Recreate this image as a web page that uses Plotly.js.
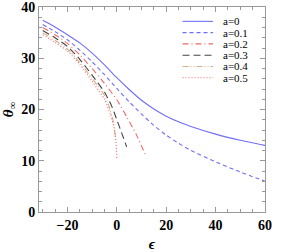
<!DOCTYPE html>
<html><head><meta charset="utf-8">
<script src="https://cdn.plot.ly/plotly-3.0.1.min.js"></script>
<style>html,body{margin:0;padding:0;background:#fff}#chart{width:300px;height:252px}</style>
</head><body><div id="chart"></div>
<script>
// Data
const labels = ["a=0", "a=0.1", "a=0.2", "a=0.3", "a=0.4", "a=0.5"];
const eps0 = [-30, -25, -20, -15, -10, -5, 0, 5, 10, 15, 20, 25, 30, 40, 50, 60];
const th0  = [37.4, 36.1, 34.6, 33.0, 31.0, 28.7, 26.2, 23.9, 21.8, 20.1, 18.7, 17.6, 16.7, 15.2, 14.0, 13.0];
const eps1 = [-30, -25, -20, -15, -10, -5, 0, 5, 10, 15, 20, 25, 30, 40, 50, 60];
const th1  = [36.6, 35.2, 33.6, 31.6, 29.3, 26.8, 24.1, 21.5, 19.1, 16.9, 15.0, 13.4, 12.0, 9.8, 7.8, 6.0];
const eps2 = [-30, -25, -20, -15, -10, -5, 0, 4, 8, 11.7];
const th2  = [36.0, 34.6, 32.9, 30.7, 28.0, 25.1, 21.9, 18.6, 15.0, 11.0];
const eps3 = [-30, -25, -20, -15, -10, -5, -2, 0, 2, 4];
const th3  = [35.4, 34.0, 32.3, 29.8, 26.7, 23.4, 20.6, 18.0, 15.4, 12.7];
const eps4 = [-30, -25, -20, -15, -10, -5, -3, -1.5, -0.6];
const th4  = [35.0, 33.5, 31.8, 29.2, 26.1, 22.8, 20.4, 17.8, 14.8];
const eps5 = [-30, -25, -20, -15, -10, -5, -2.7, -1, -0.3, 0];
const th5  = [34.6, 33.1, 31.4, 28.8, 25.5, 22.0, 19.2, 16.2, 13.4, 10.5];
const xTicks = [-20, 0, 20, 40, 60];
const yTicks = [0, 10, 20, 30, 40];

const xs = [eps0, eps1, eps2, eps3, eps4, eps5];
const ys = [th0, th1, th2, th3, th4, th5];
const colors = ["#6f6ff5", "#6f6ff5", "#f26868", "#444444", "#d4b08c", "#f26868"];
const dashes = ["solid", "4px,3px", "6px,3px,1px,3px", "7px,4px", "6px,2px,1px,2px,1px,2px", "1px,2px"];

const serif = "'Liberation Serif', 'DejaVu Serif', serif";
const traces = xs.map((x, i) => ({
  x: x, y: ys[i], type: "scatter", mode: "lines", name: labels[i],
  line: {color: colors[i], width: 1.1, dash: dashes[i], shape: "spline", smoothing: 0.6},
  showlegend: false, hoverinfo: "skip"
}));

// Legend drawn in paper coordinates
const shapes = [], annotations = [];
const lx0 = 0.635, lx1 = 0.77, ltx = 0.81, ly0 = 0.93, lstep = 0.055;
labels.forEach((lab, i) => {
  const yy = ly0 - i * lstep;
  shapes.push({type: "line", xref: "paper", yref: "paper", x0: lx0, x1: lx1, y0: yy, y1: yy,
    line: {color: colors[i], width: 1.1, dash: dashes[i]}});
  annotations.push({xref: "paper", yref: "paper", x: ltx, y: yy, text: lab, showarrow: false,
    xanchor: "left", yanchor: "middle", borderpad: 0,
    font: {family: serif, size: 11, color: "#000"}});
});

const axisCommon = {
  showgrid: false, zeroline: false, showline: true, linecolor: "#999", linewidth: 1,
  mirror: "allticks", ticks: "inside", ticklen: 5, tickcolor: "#999", tickwidth: 1,
  ticklabeloverflow: "allow",
  tickfont: {family: serif, size: 14, color: "#000", weight: "bold"}
};
const layout = {
  width: 300, height: 252,
  margin: {l: 39, r: 34.5, t: 7, b: 40},
  paper_bgcolor: "#fff", plot_bgcolor: "#fff",
  xaxis: Object.assign({}, axisCommon, {
    range: [-31.5, 60], tickvals: xTicks, ticktext: xTicks.map(v => v < 0 ? "\u2212" + Math.abs(v) : String(v)),
    minor: {dtick: 5, tick0: 0, ticks: "inside", ticklen: 3, tickcolor: "#999", showgrid: false},
    title: {text: "<b><i>ϵ</i></b>", font: {family: serif, size: 15, color: "#000"}, standoff: 6}
  }),
  yaxis: Object.assign({}, axisCommon, {
    range: [0, 40], tickvals: yTicks,
    minor: {dtick: 2, tick0: 0, ticks: "inside", ticklen: 3, tickcolor: "#999", showgrid: false},
    title: {text: "<b><i>θ</i></b><sub>∞</sub>", font: {family: serif, size: 15, color: "#000"}, standoff: 5}
  }),
  shapes: shapes, annotations: annotations, showlegend: false
};
Plotly.newPlot("chart", traces, layout, {displayModeBar: false, staticPlot: true});
</script></body></html>
